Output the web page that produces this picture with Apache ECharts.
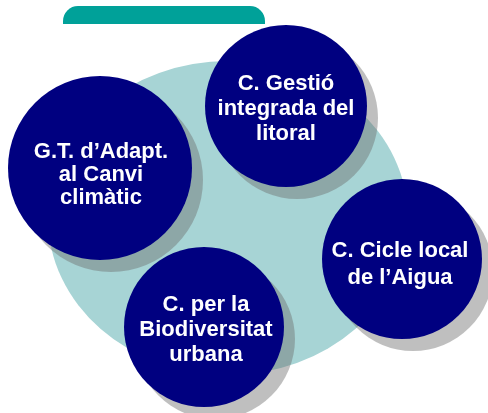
<!DOCTYPE html>
<html>
<head>
<meta charset="utf-8">
<script src="https://cdn.jsdelivr.net/npm/echarts@6/dist/echarts.min.js"></script>
<style>
  html, body { margin: 0; padding: 0; background: #fff; }
  #chart { width: 488px; height: 413px; }
</style>
</head>
<body>
<div id="chart"></div>
<script>
// diagram nodes (units = pixels of the picture)
var nodeNames = [
  'G.T. d\u2019Adapt.\nal Canvi\nclimàtic',
  'C. Gestió\nintegrada del\nlitoral',
  'C. Cicle local\nde l\u2019Aigua',
  'C. per la\nBiodiversitat\nurbana'
]
var nodeX = [100, 286, 402, 204]
var nodeY = [168, 106, 259, 327]
var nodeSize = [184, 162, 160, 160]

// background ellipse and header tab
var areaX = [228]
var areaY = [218]
var areaSize = [[360, 314]]
var tabX = [164]
var tabY = [15]
var tabSize = [[202, 18]]

var navy = '#000080'
var teal = '#a7d4d5'
// small per-node text tweaks
var labelTweaks = [
  { offset: [1, 7], lineHeight: 23 },
  { offset: [0, 3], lineHeight: 25 },
  { offset: [-2, 5], lineHeight: 27 },
  { offset: [2, 3], lineHeight: 25 }
]

var chart = echarts.init(document.getElementById('chart'))

function pts(xs, ys, extra) {
  return xs.map(function (x, i) {
    return { value: [x, ys[i]], size: extra[i], name: '' }
  })
}

chart.setOption({
  animation: false,
  grid: { left: 0, right: 0, top: 0, bottom: 0 },
  xAxis: { type: 'value', min: 0, max: 488, show: false },
  yAxis: { type: 'value', min: 0, max: 413, inverse: true, show: false },
  series: [
    {
      type: 'scatter',
      data: pts(areaX, areaY, areaSize),
      symbol: 'circle',
      symbolSize: function (v, p) { return p.data.size },
      itemStyle: { color: teal, opacity: 1 },
      silent: true
    },
    {
      type: 'scatter',
      data: pts(tabX, tabY, tabSize),
      symbol: 'path://M0,15 A15,15 0 0 1 15,0 L187,0 A15,15 0 0 1 202,15 L202,18 L0,18 Z',
      symbolKeepAspect: false,
      symbolSize: function (v, p) { return p.data.size },
      itemStyle: { color: '#00a199', opacity: 1 },
      silent: true
    },
    {
      // shadows
      type: 'scatter',
      data: pts(nodeX, nodeY, nodeSize),
      symbol: 'circle',
      symbolOffset: [11, 12],
      symbolSize: function (v, p) { return p.data.size },
      itemStyle: { color: 'rgba(110,110,110,0.44)', opacity: 1 },
      silent: true
    },
    {
      type: 'scatter',
      data: nodeX.map(function (x, i) {
        return {
          value: [x, nodeY[i]],
          size: nodeSize[i],
          name: nodeNames[i],
          label: labelTweaks[i]
        }
      }),
      symbol: 'circle',
      symbolSize: function (v, p) { return p.data.size },
      itemStyle: { color: navy, opacity: 1 },
      label: {
        show: true,
        position: 'inside',
        formatter: '{b}',
        color: '#fff',
        fontFamily: 'Liberation Sans, Arial, sans-serif',
        fontWeight: 'bold',
        fontSize: 22,
        lineHeight: 24,
        align: 'center'
      },
      silent: true
    }
  ]
})
</script>
</body>
</html>
